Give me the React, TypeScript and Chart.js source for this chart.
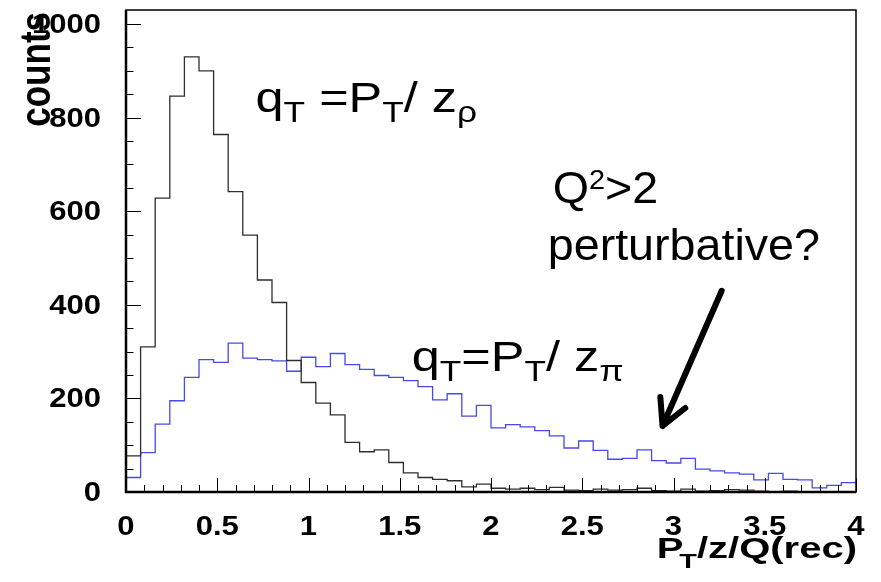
import React, { useEffect, useRef } from "react";
import { Chart, registerables } from "chart.js";

Chart.register(...registerables);

// ---- data ----
const BIN_WIDTH = 0.08;
const X_MIN = 0;
const X_MAX = 4;
const Y_MIN = 0;
const Y_MAX = 1030;

// q_T = P_T / z_rho  (black)
const rhoCounts = [
  77, 310, 628, 846, 930, 900, 764, 642, 549, 453,
  405, 281, 234, 190, 165, 106, 86, 90, 63, 41,
  31, 27, 24, 11, 17, 8, 6, 8, 5, 10,
  4, 3, 6, 4, 5, 8, 3, 2, 6, 2,
  3, 5, 4, 2, 1, 2, 1, 0, 1, 0,
];

// q_T = P_T / z_pi  (blue)
const piCounts = [
  31, 84, 145, 195, 245, 283, 277, 318, 286, 283,
  280, 258, 288, 268, 296, 272, 262, 249, 245, 238,
  225, 197, 210, 162, 185, 137, 144, 139, 131, 120,
  94, 109, 89, 70, 72, 90, 67, 62, 72, 49,
  45, 41, 38, 26, 40, 27, 26, 9, 14, 20,
];

const xTickValues = [0, 0.5, 1, 1.5, 2, 2.5, 3, 3.5, 4];
const xTickLabels = ["0", "0.5", "1", "1.5", "2", "2.5", "3", "3.5", "4"];
const yTickValues = [0, 200, 400, 600, 800, 1000];
const yTickLabels = ["0", "200", "400", "600", "800", "1000"];
const X_MINOR_STEP = 0.1;
const Y_MINOR_STEP = 50;

// annotation anchors in data coordinates
const rhoLabelPos = { x: 0.71, y: 811 };
const piLabelPos = { x: 1.566, y: 259 };
const q2LabelPos = { x: 2.338, y: 617 };
const pertLabelPos = { x: 2.311, y: 495 };
const arrowFrom = { x: 3.264, y: 430 };
const arrowTo = { x: 2.94, y: 141 };

const FONT = '"Liberation Sans", Arial, Helvetica, sans-serif';

function toSteps(counts: number[]) {
  const pts = counts.map((c, i) => ({ x: i * BIN_WIDTH, y: c }));
  pts.push({ x: counts.length * BIN_WIDTH, y: counts[counts.length - 1] });
  return pts;
}

type Part = { t: string; scale?: number; dy?: number; dx?: number };

function measureRich(ctx: CanvasRenderingContext2D, parts: Part[], size: number, weight: string) {
  let w = 0;
  for (const p of parts) {
    ctx.font = `${weight} ${size * (p.scale ?? 1)}px ${FONT}`;
    w += ctx.measureText(p.t).width + (p.dx ?? 0);
  }
  return w;
}

function drawRich(
  ctx: CanvasRenderingContext2D,
  parts: Part[],
  x: number,
  y: number,
  size: number,
  sx: number,
  weight: string,
  align: "left" | "right" = "left"
) {
  ctx.save();
  ctx.translate(x, y);
  ctx.scale(sx, 1);
  ctx.textAlign = "left";
  ctx.textBaseline = "alphabetic";
  let cx = align === "right" ? -measureRich(ctx, parts, size, weight) : 0;
  for (const p of parts) {
    ctx.font = `${weight} ${size * (p.scale ?? 1)}px ${FONT}`;
    cx += p.dx ?? 0;
    ctx.fillText(p.t, cx, p.dy ?? 0);
    cx += ctx.measureText(p.t).width;
  }
  ctx.restore();
}

const decorPlugin = {
  id: "rootDecor",
  afterDraw(chart: any) {
    const ctx: CanvasRenderingContext2D = chart.ctx;
    const xs = chart.scales.x;
    const ys = chart.scales.y;
    const { left, right, top, bottom } = chart.chartArea;
    ctx.save();
    ctx.fillStyle = "#000";
    ctx.strokeStyle = "#000";

    // frame
    ctx.lineWidth = 1.5;
    ctx.strokeRect(left, top, right - left, bottom - top);
    ctx.lineWidth = 2.5;
    ctx.beginPath();
    ctx.moveTo(left, top);
    ctx.lineTo(left, bottom);
    ctx.lineTo(right, bottom);
    ctx.stroke();

    // ticks (inward)
    ctx.lineWidth = 1;
    ctx.beginPath();
    const nx = Math.round((X_MAX - X_MIN) / X_MINOR_STEP);
    for (let i = 0; i <= nx; i++) {
      const v = X_MIN + i * X_MINOR_STEP;
      const px = Math.round(xs.getPixelForValue(v)) + 0.5;
      const major = i % 5 === 0;
      ctx.moveTo(px, bottom);
      ctx.lineTo(px, bottom - (major ? 14 : 7));
    }
    const ny = Math.floor((Y_MAX - Y_MIN) / Y_MINOR_STEP);
    for (let i = 0; i <= ny; i++) {
      const v = Y_MIN + i * Y_MINOR_STEP;
      const py = Math.round(ys.getPixelForValue(v)) + 0.5;
      const major = v % 200 === 0;
      ctx.moveTo(left, py);
      ctx.lineTo(left + (major ? 15 : 7.5), py);
    }
    ctx.stroke();

    // tick labels
    const tickSize = 27;
    const tickSx = 1.15;
    yTickValues.forEach((v, i) => {
      const py = ys.getPixelForValue(v);
      drawRich(ctx, [{ t: yTickLabels[i] }], 101, py + 9, tickSize, tickSx, "bold", "right");
    });
    xTickValues.forEach((v, i) => {
      const px = xs.getPixelForValue(v);
      ctx.save();
      ctx.translate(px, 535);
      ctx.scale(tickSx, 1);
      ctx.font = `bold ${tickSize}px ${FONT}`;
      ctx.textAlign = "center";
      ctx.textBaseline = "alphabetic";
      ctx.fillText(xTickLabels[i], 0, 0);
      ctx.restore();
    });

    // axis titles
    drawRich(
      ctx,
      [{ t: "P" }, { t: "T", scale: 0.72, dy: 10, dx: -3 }, { t: "/z/Q(rec)" }],
      857,
      558,
      29,
      1.38,
      "bold",
      "right"
    );
    ctx.save();
    ctx.translate(50, 12);
    ctx.rotate(-Math.PI / 2);
    ctx.scale(1, 1.2);
    ctx.font = `bold 35px ${FONT}`;
    ctx.textAlign = "right";
    ctx.textBaseline = "alphabetic";
    ctx.fillText("counts", 0, 0);
    ctx.restore();

    // annotations
    const aSize = 42;
    const aSx = 1.2;
    drawRich(
      ctx,
      [
        { t: "q" },
        { t: "T", scale: 0.7, dy: 10 },
        { t: " =P" },
        { t: "T", scale: 0.7, dy: 10 },
        { t: "/ z" },
        { t: "\u03c1", scale: 0.7, dy: 10 },
      ],
      xs.getPixelForValue(rhoLabelPos.x),
      ys.getPixelForValue(rhoLabelPos.y),
      aSize,
      aSx,
      "normal"
    );
    drawRich(
      ctx,
      [
        { t: "q" },
        { t: "T", scale: 0.7, dy: 10 },
        { t: "=P" },
        { t: "T", scale: 0.7, dy: 10 },
        { t: "/ z" },
        { t: "\u03c0", scale: 0.7, dy: 10 },
      ],
      xs.getPixelForValue(piLabelPos.x),
      ys.getPixelForValue(piLabelPos.y),
      aSize,
      aSx,
      "normal"
    );
    drawRich(
      ctx,
      [{ t: "Q" }, { t: "2", scale: 0.62, dy: -14 }, { t: ">2" }],
      xs.getPixelForValue(q2LabelPos.x),
      ys.getPixelForValue(q2LabelPos.y),
      44,
      1.06,
      "normal"
    );
    drawRich(
      ctx,
      [{ t: "perturbative?" }],
      xs.getPixelForValue(pertLabelPos.x),
      ys.getPixelForValue(pertLabelPos.y),
      44,
      1.06,
      "normal"
    );

    // arrow
    const x0 = xs.getPixelForValue(arrowFrom.x);
    const y0 = ys.getPixelForValue(arrowFrom.y);
    const x1 = xs.getPixelForValue(arrowTo.x);
    const y1 = ys.getPixelForValue(arrowTo.y);
    const ang = Math.atan2(y0 - y1, x0 - x1);
    const wing = 29;
    const spread = (28 * Math.PI) / 180;
    ctx.lineWidth = 6;
    ctx.lineCap = "round";
    ctx.lineJoin = "round";
    ctx.beginPath();
    ctx.moveTo(x0, y0);
    ctx.lineTo(x1, y1);
    ctx.moveTo(x1 + wing * Math.cos(ang - spread), y1 + wing * Math.sin(ang - spread));
    ctx.lineTo(x1, y1);
    ctx.lineTo(x1 + wing * Math.cos(ang + spread), y1 + wing * Math.sin(ang + spread));
    ctx.stroke();

    ctx.restore();
  },
};

export default function App() {
  const ref = useRef<HTMLCanvasElement | null>(null);

  useEffect(() => {
    if (!ref.current) return;
    const chart = new Chart(ref.current, {
      type: "line",
      data: {
        datasets: [
          {
            label: "qT = PT / z_rho",
            data: toSteps(rhoCounts),
            borderColor: "#2e2e2e",
            borderWidth: 1.3,
            stepped: "before",
            pointRadius: 0,
            fill: false,
          },
          {
            label: "qT = PT / z_pi",
            data: toSteps(piCounts),
            borderColor: "rgb(72,72,235)",
            borderWidth: 1.3,
            stepped: "before",
            pointRadius: 0,
            fill: false,
          },
        ],
      },
      options: {
        animation: false,
        responsive: false,
        maintainAspectRatio: false,
        layout: { padding: { top: 10, right: 25, left: 0, bottom: 0 } },
        plugins: {
          legend: { display: false },
          tooltip: { enabled: false },
        },
        scales: {
          x: {
            type: "linear",
            min: X_MIN,
            max: X_MAX,
            grid: { display: false },
            border: { display: false },
            ticks: { display: false },
            afterFit: (s: any) => {
              s.height = 90;
            },
          },
          y: {
            type: "linear",
            min: Y_MIN,
            max: Y_MAX,
            grid: { display: false },
            border: { display: false },
            ticks: { display: false },
            afterFit: (s: any) => {
              s.width = 126;
            },
          },
        },
      },
      plugins: [decorPlugin],
    } as any);
    return () => chart.destroy();
  }, []);

  return (
    <div style={{ position: "absolute", left: 0, top: 0, width: 881, height: 582, background: "#fff" }}>
      <canvas ref={ref} width={881} height={582} style={{ display: "block" }} />
    </div>
  );
}
